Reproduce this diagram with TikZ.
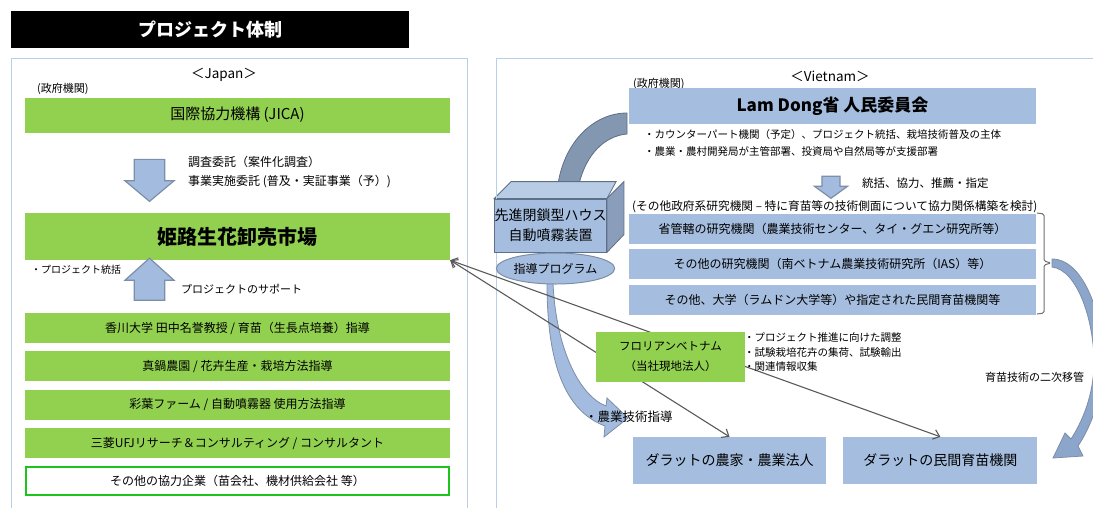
\documentclass[tikz,border=0pt]{standalone}
\usepackage{fontspec}
\setmainfont{Noto Sans CJK JP}
\usepackage{tikz}
\usetikzlibrary{arrows.meta, positioning, backgrounds, shapes.geometric, shapes.arrows}
\definecolor{bargreen}{HTML}{92D050}
\definecolor{barblue}{HTML}{A5BEDF}
\definecolor{arrowfill}{HTML}{A3BBDE}
\definecolor{arrowedge}{HTML}{7D8EA8}
\definecolor{panelblue}{HTML}{B8CFEA}
\definecolor{banddark}{HTML}{8497B0}
\definecolor{bandmid}{HTML}{8CA5CA}
\definecolor{cubetop}{HTML}{B9CCE6}
\definecolor{cubeside}{HTML}{8A9DBA}
\definecolor{cubeedge}{HTML}{5F6F86}
\definecolor{linkgray}{HTML}{5A5A5A}
\definecolor{edgegreen}{HTML}{1CC51C}
\definecolor{bracegray}{HTML}{6E6E6E}
\tikzset{
  titlebox/.style   = {fill=black, text=white, minimum width=398pt,
                       minimum height=37pt, inner sep=0pt,
                       font=\bfseries\fontsize{18}{20}\selectfont},
  panel/.style      = {draw=panelblue, line width=1pt},
  heading/.style    = {inner sep=0pt, font=\fontsize{13.5}{15}\selectfont},
  note/.style       = {inner sep=0pt, anchor=west, align=left,
                       font=\fontsize{10.5}{14.5}\selectfont},
  greenbar/.style   = {fill=bargreen, minimum width=425pt, minimum height=30pt,
                       inner sep=0pt, font=\fontsize{12}{14}\selectfont},
  bluebar/.style    = {fill=barblue, minimum width=407pt, minimum height=30pt,
                       inner sep=0pt, font=\fontsize{12}{14}\selectfont},
  blockarrow/.style = {single arrow, draw=arrowedge, fill=arrowfill,
                       line width=1.2pt, inner sep=0pt,
                       single arrow head indent=0pt},
  bentarrow/.style  = {draw=arrowedge, fill=arrowfill, line width=0.8pt},
  cube/.style       = {draw=cubeedge, line width=0.8pt},
  bracket/.style    = {draw=bracegray, line width=1pt, rounded corners=1.5pt},
  link/.style       = {{Straight Barb[length=6pt,width=10pt]}-{Straight Barb[length=6pt,width=10pt]},
                       draw=linkgray, line width=1.1pt},
}

\begin{document}
\begin{tikzpicture}[x=1pt, y=-1pt]
    \useasboundingbox (0,0) rectangle (1093,507);

    % --- title and the two frames -------------------------------------------
    \node[titlebox] (title) at (210,29.5) {プロジェクト体制};
    \draw[panel] (11,58) rectangle (467,520);
    \draw[panel] (496,58) rectangle (1100,520);

    % --- Japan side ---------------------------------------------------------
    \node[heading] (japan) at (224,75) {＜Japan＞};
    \node[note, font=\fontsize{11}{12}\selectfont] (govjp) at (37,89) {(政府機関)};
    \node[greenbar, minimum height=35pt, font=\fontsize{15}{18}\selectfont] (jica)
      at (237.5,115) {国際協力機構 (JICA)};
    \node[blockarrow, minimum height=42pt, minimum width=49pt, inner ysep=11pt,
          single arrow tip angle=100, rotate=-90] (down1) at (149.5,174) {};
    \node[note, font=\fontsize{12}{19}\selectfont] (contract) at (188,172.5)
      {調査委託（案件化調査）\\事業実施委託 (普及・実証事業（予）)};
    \node[greenbar, minimum height=47pt, font=\bfseries\fontsize{20}{24}\selectfont] (hime)
      at (237.5,236.5) {姫路生花卸売市場};
    \node[note, font=\fontsize{10}{12}\selectfont] (himenote) at (31,270) {・プロジェクト統括};
    \node[blockarrow, minimum height=42pt, minimum width=49pt, inner ysep=11pt,
          single arrow tip angle=96, rotate=90] (up1) at (149.5,286) {};
    \node[note, font=\fontsize{11}{13}\selectfont] (support) at (181,289) {プロジェクトのサポート};

    \node[greenbar] (kagawa) at (237.5,328) {香川大学 田中名誉教授 /  育苗（生長点培養）指導};
    \node[greenbar, below=8pt of kagawa] (manabe) {真鍋農園 / 花卉生産・栽培方法指導};
    \node[greenbar, below=8pt of manabe] (iroha) {彩葉ファーム / 自動噴霧器 使用方法指導};
    \node[greenbar, below=8pt of iroha] (mufg) {三菱UFJリサーチ＆コンサルティング / コンサルタント};
    \node[greenbar, below=8pt of mufg, fill=white, draw=edgegreen, line width=2pt,
          minimum width=423pt, minimum height=28pt] (others)
      {その他の協力企業（苗会社、機材供給会社 等）};

    % --- Vietnam side -------------------------------------------------------
    \node[heading] (vietnam) at (830,76) {＜Vietnam＞};
    \node[note, font=\fontsize{11}{12}\selectfont] (govvn) at (633,84) {(政府機関)};
    \node[bluebar, minimum height=36pt, font=\bfseries\fontsize{17}{20}\selectfont] (lamdong)
      at (832.5,106) {Lam Dong省 人民委員会};
    \node[note, font=\fontsize{10.5}{17}\selectfont] (lamnote) at (644,142.5)
      {・カウンターパート機関（予定）、プロジェクト統括、栽培技術普及の主体\\
       ・農業・農村開発局が主管部署、投資局や自然局等が支援部署};
    \node[blockarrow, minimum height=22pt, minimum width=33pt, inner ysep=8pt,
          single arrow tip angle=108, rotate=-90] (down2) at (831,184) {};
    \node[note, font=\fontsize{11.5}{13}\selectfont] (coop) at (862,183) {統括、協力、推薦・指定};

    \node[note, font=\fontsize{11.7}{13}\selectfont] (reshead) at (632,207)
      {(その他政府系研究機関 – 特に育苗等の技術側面について協力関係構築を検討)};
    \node[bluebar] (res1) at (832.5,229) {省管轄の研究機関（農業技術センター、タイ・グエン研究所等）};
    \node[bluebar, below=5pt of res1] (res2) {その他の研究機関（南ベトナム農業技術研究所（IAS）等）};
    \node[bluebar, below=5pt of res2] (res3) {その他、大学（ラムドン大学等）や指定された民間育苗機関等};
    \draw[bracket] (1037,213) -- (1044,214) -- (1044,261) -- (1051,263)
      -- (1044,265) -- (1044,313) -- (1037,314);

    \node[bluebar, minimum width=193pt, minimum height=47pt,
          font=\fontsize{14}{16}\selectfont] (farmers) at (729.5,460.5) {ダラットの農家・農業法人};
    \node[bluebar, minimum width=194pt, minimum height=47pt,
          font=\fontsize{14}{16}\selectfont, right=17pt of farmers] (nursery) {ダラットの民間育苗機関};

    % --- greenhouse block with its feed from the province --------------------
    \node[fill=barblue, cube, minimum width=105pt, minimum height=53pt, inner sep=0pt,
          align=center, font=\fontsize{14}{20}\selectfont] (house) at (550.5,225.5)
      {先進閉鎖型ハウス\\自動噴霧装置};
    \begin{scope}[on background layer]
      \path[cube, fill=banddark] (627,113) .. controls (595,113) and (565,140) .. (558,184)
        -- (579,184) .. controls (586,155) and (604,136) .. (627,134) -- cycle;
      \path[cube, fill=cubetop] (house.north west) -- ++(17,-17) -- ++(105,0)
        -- (house.north east) -- cycle;
      \path[cube, fill=cubeside] (house.north east) -- ++(17,-17) -- ++(0,53)
        -- (house.south east) -- cycle;
    \end{scope}

    % curved arrow down to the farmers
    \path[bentarrow] (547,283) .. controls (547,370) and (568,412) .. (605,426)
      -- (604,437) -- (628,418) -- (607,398) -- (606,406)
      .. controls (580,396) and (556,350) .. (553,283) -- cycle;
    \node[note, font=\fontsize{12.5}{14}\selectfont] (agri) at (585,417) {・農業技術指導};
    \node[ellipse, draw=arrowedge, fill=barblue, line width=1pt, minimum width=115pt,
          minimum height=31pt, inner sep=0pt, font=\fontsize{12}{14}\selectfont] (program)
      at (555.5,268.5) {指導プログラム};

    % --- links back to the market -------------------------------------------
    \draw[link] (hime.south east) -- (farmers.north);
    \draw[link] (hime.south east) -- (nursery.north);

    \node[greenbar, minimum width=149pt, minimum height=50pt, align=center,
          font=\fontsize{11.5}{20}\selectfont] (floriant) at (670.5,357)
      {フロリアンベトナム\\（当社現地法人）};
    \node[note] (florinote) at (744,352.5)
      {・プロジェクト推進に向けた調整\\・試験栽培花卉の集荷、試験輸出\\・関連情報収集};

    % secondary transfer, running off the right edge
    \begin{scope}
      \clip (0,0) rectangle (1093,507);
      \path[bentarrow, fill=bandmid] (1052,259) .. controls (1085,259) and (1104,320) .. (1103,362)
        .. controls (1102,400) and (1090,428) .. (1078,446) -- (1083,456) -- (1053,458)
        -- (1065,433) -- (1071,439) .. controls (1082,422) and (1094,395) .. (1094,362)
        .. controls (1094,322) and (1078,270) .. (1052,267) -- cycle;
    \end{scope}
    \node[note, font=\fontsize{11}{13}\selectfont] (secondary) at (985,377) {育苗技術の二次移管};
\end{tikzpicture}
\end{document}
